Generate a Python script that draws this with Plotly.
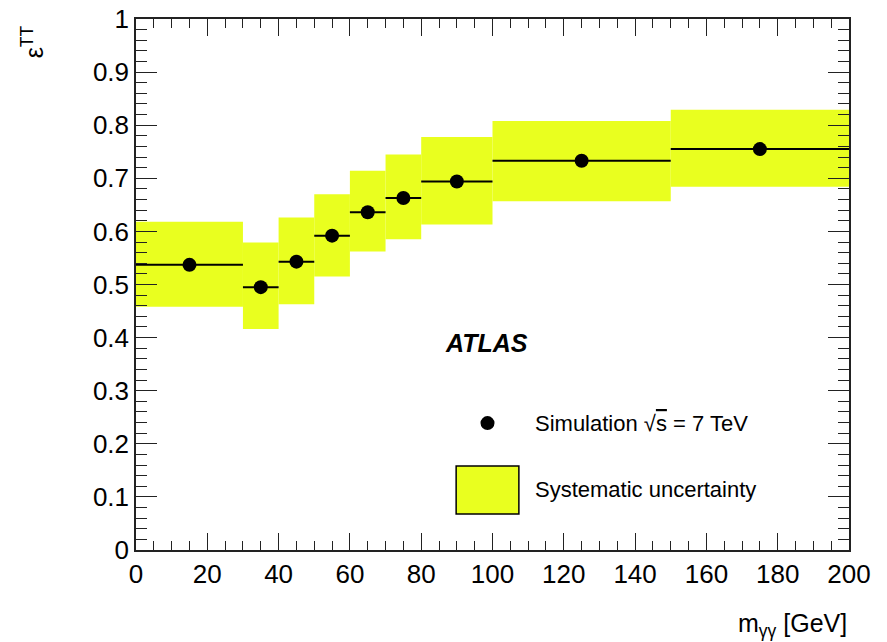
import plotly.graph_objects as go

# Data
bin_low = [0, 30, 40, 50, 60, 70, 80, 100, 150]
bin_high = [30, 40, 50, 60, 70, 80, 100, 150, 200]
eff = [0.537, 0.495, 0.543, 0.592, 0.636, 0.663, 0.694, 0.733, 0.755]
sys_low = [0.458, 0.416, 0.463, 0.515, 0.562, 0.585, 0.613, 0.657, 0.684]
sys_high = [0.618, 0.579, 0.626, 0.670, 0.714, 0.745, 0.778, 0.808, 0.829]

x_ticks = [0, 20, 40, 60, 80, 100, 120, 140, 160, 180, 200]
y_ticks = [0, 0.1, 0.2, 0.3, 0.4, 0.5, 0.6, 0.7, 0.8, 0.9, 1]

centers = [(a + b) / 2 for a, b in zip(bin_low, bin_high)]
widths = [b - a for a, b in zip(bin_low, bin_high)]
halfw = [w / 2 for w in widths]

YELLOW = "#E9FF1F"
FONT = "Liberation Sans, Arial, sans-serif"

fig = go.Figure()
fig.add_trace(go.Bar(
    x=centers, y=[h - l for h, l in zip(sys_high, sys_low)], base=sys_low,
    width=widths, marker=dict(color=YELLOW, line=dict(width=0)),
    showlegend=False, hoverinfo="skip"))
fig.add_trace(go.Scatter(
    x=centers, y=eff, mode="markers",
    marker=dict(color="black", size=14),
    error_x=dict(type="data", array=halfw, color="black", thickness=2, width=0),
    showlegend=False))

axis_common = dict(
    showline=True, linecolor="#222", linewidth=1.5, mirror="allticks",
    ticks="inside", tickcolor="#222", tickwidth=1.3, showgrid=False, zeroline=False,
    automargin=False,
    tickfont=dict(family=FONT, size=26, color="black"))

fig.update_xaxes(range=[0, 200], tickvals=x_ticks, ticklen=17,
                 minor=dict(dtick=5, ticklen=9, ticks="inside", tickcolor="#222", tickwidth=1.3, showgrid=False),
                 **axis_common)
fig.update_yaxes(range=[0, 1], tickvals=y_ticks, ticklen=21,
                 minor=dict(dtick=0.02, ticklen=11, ticks="inside", tickcolor="#222", tickwidth=1.3, showgrid=False),
                 **axis_common)

# Legend drawn manually
fig.add_shape(type="rect", xref="paper", yref="paper", x0=0.449, x1=0.537, y0=0.068, y1=0.158,
              fillcolor=YELLOW, line=dict(color="black", width=1.5))
fig.add_shape(type="circle", xref="paper", yref="paper", xsizemode="pixel", ysizemode="pixel",
              xanchor=0.493, yanchor=0.239, x0=-7, x1=7, y0=-7, y1=7,
              fillcolor="black", line=dict(color="black", width=0))

annots = [
    dict(x=0.557, y=0.239, text="Simulation √<span style='text-decoration:overline'>s</span> = 7 TeV", size=22),
    dict(x=0.557, y=0.113, text="Systematic uncertainty", size=22),
    dict(x=0.431, y=0.390, text="<b><i>ATLAS</i></b>", size=25),
]
for a in annots:
    fig.add_annotation(xref="paper", yref="paper", x=a["x"], y=a["y"], text=a["text"],
                       showarrow=False, xanchor="left", yanchor="middle",
                       font=dict(family=FONT, size=a["size"], color="black"))

fig.add_annotation(xref="paper", yref="paper", x=1.0, y=-0.107, text="m<sub>γγ</sub> [GeV]",
                   showarrow=False, xanchor="right", yanchor="top",
                   font=dict(family=FONT, size=25, color="black"))
fig.add_annotation(xref="paper", yref="paper", x=-0.145, y=0.992, text="ε<sup>TT</sup>",
                   showarrow=False, textangle=-90, xanchor="center", yanchor="top",
                   font=dict(family=FONT, size=25, color="black"))

fig.update_layout(
    width=887, height=642,
    margin=dict(l=136, r=38, t=19, b=92),
    paper_bgcolor="white", plot_bgcolor="white",
    showlegend=False,
)

fig.write_html("out.html", config={"displayModeBar": False},
               post_script="document.body.style.margin='0';document.body.style.padding='0';")
